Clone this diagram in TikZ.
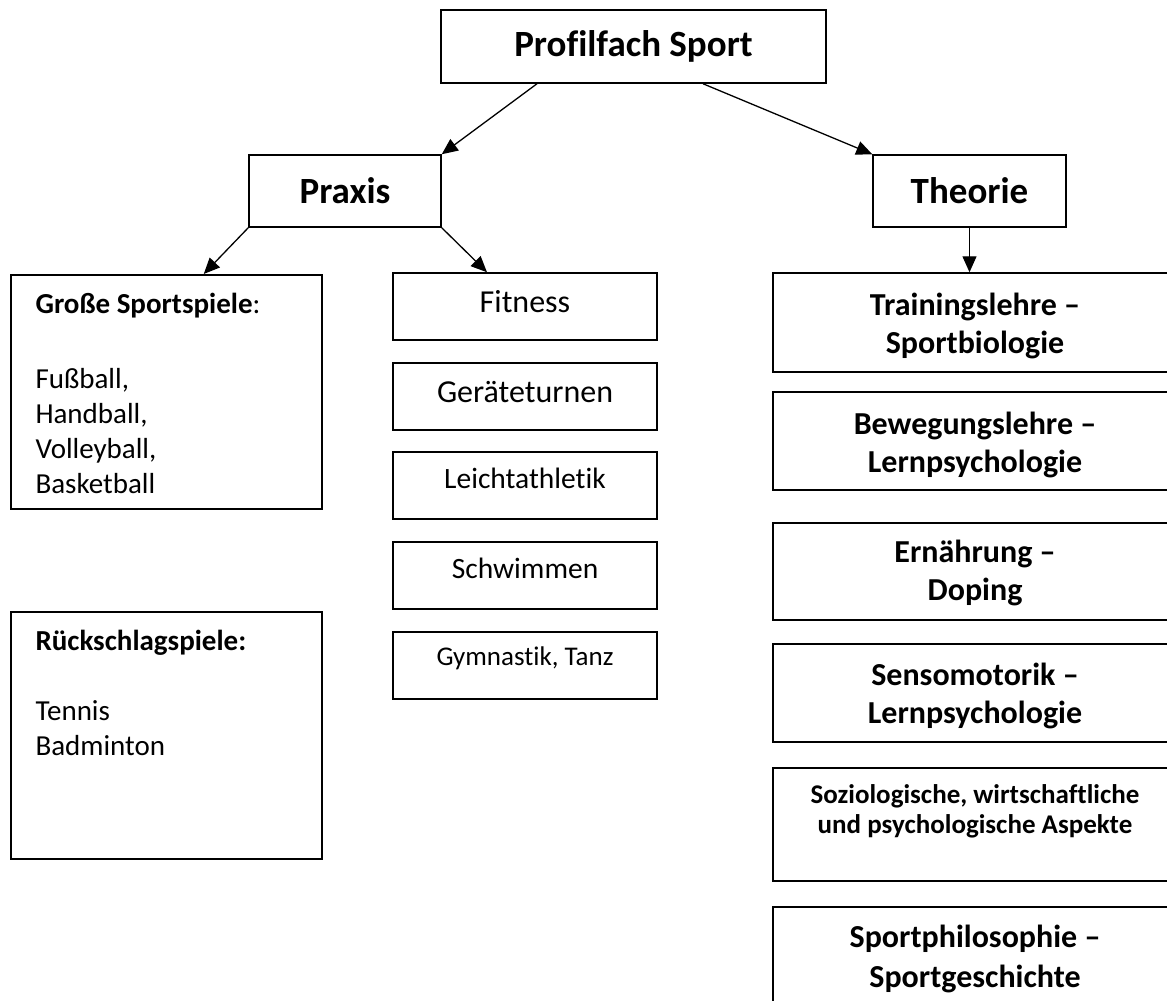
\documentclass[tikz,border=0pt]{standalone}
\usepackage{fontspec}
\setmainfont{Carlito}[Ligatures={TeX,NoCommon}]
\usetikzlibrary{arrows.meta, calc, positioning}
\tikzset{
  box/.style={draw, line width=1.5pt, inner sep=0pt},
  midbox/.style={box, minimum width=264pt, minimum height=67pt},
  theobox/.style={box, minimum width=404pt, minimum height=98pt},
  theotext/.style={anchor=base, align=center, font=\fontsize{32}{38}\selectfont\bfseries},
  conn/.style={line width=1.3pt, -{Triangle[length=16pt,width=14pt]}},
}

\begin{document}
\begin{tikzpicture}[x=1pt,y=-1pt]
  \clip (0,0) rectangle (1167,1001);

  % top levels
  \node[box, minimum width=385pt, minimum height=73pt,
    font=\fontsize{37}{44}\selectfont\bfseries] (sport) at (633.5,46.5) {Profilfach Sport};
  \node[box, minimum width=192pt, minimum height=72pt,
    font=\fontsize{37}{44}\selectfont\bfseries] (praxis) at (345,191) {Praxis};
  \node[box, minimum width=193pt, minimum height=72pt,
    font=\fontsize{37}{44}\selectfont\bfseries] (theorie) at (969.5,191) {Theorie};

  % Praxis, left column (base = last line)
  \node[box, minimum width=311pt, minimum height=234pt, anchor=north west] (grosse) at (10,274) {};
  \node[anchor=base west, align=left, font=\fontsize{29}{35}\selectfont] (grossetxt) at (32,493)
    {\textbf{Große Sportspiele}:\\[40pt] Fußball,\\ Handball,\\ Volleyball,\\ Basketball};
  \node[box, minimum width=311pt, minimum height=247pt, anchor=north west] (rueck) at (10,611) {};
  \node[anchor=base west, align=left, font=\fontsize{29}{35}\selectfont] (ruecktxt) at (32,755)
    {\textbf{Rückschlagspiele:}\\[35pt] Tennis\\ Badminton};

  % Praxis, middle column
  \node[midbox] (fitness) at (525,306.5) {};
  \node[anchor=base, font=\fontsize{32}{38}\selectfont] (fitnesstxt) at (525,312) {Fitness};
  \node[midbox] (turnen) at (525,396.5) {};
  \node[anchor=base, font=\fontsize{32}{38}\selectfont] (turnentxt) at (525,402) {Geräteturnen};
  \node[midbox] (leicht) at (525,485.5) {};
  \node[anchor=base, font=\fontsize{29.5}{35}\selectfont] (leichttxt) at (525,488) {Leichtathletik};
  \node[midbox] (schwimm) at (525,575.5) {};
  \node[anchor=base, font=\fontsize{29.5}{35}\selectfont] (schwimmtxt) at (525,578) {Schwimmen};
  \node[midbox] (gym) at (525,665.5) {};
  \node[anchor=base, font=\fontsize{27}{32}\selectfont] (gymtxt) at (525,665) {Gymnastik, Tanz};

  % Theorie column (base = last line)
  \node[theobox, minimum height=99pt] (train) at (975,322.5) {};
  \node[theotext] (traintxt) at (975,353) {Trainingslehre –\\ Sportbiologie};
  \node[theobox] (beweg) at (975,441) {};
  \node[theotext] (bewegtxt) at (975,472) {Bewegungslehre –\\ Lernpsychologie};
  \node[theobox, minimum height=97pt] (ernaehr) at (975,571.5) {};
  \node[theotext] (ernaehrtxt) at (975,600) {Ernährung –\\ Doping};
  \node[theobox] (senso) at (975,693) {};
  \node[theotext] (sensotxt) at (975,723) {Sensomotorik –\\ Lernpsychologie};
  \node[theobox, minimum height=113pt] (sozio) at (975,824.5) {};
  \node[theotext, font=\fontsize{27}{30}\selectfont\bfseries] (soziotxt) at (975,833)
    {Soziologische, wirtschaftliche\\ und psychologische Aspekte};
  \node[theobox] (philo) at (975,956) {};
  \node[theotext, font=\fontsize{32}{40}\selectfont\bfseries] (philotxt) at (975,987)
    {Sportphilosophie –\\ Sportgeschichte};

  % arrows
  \draw[conn] ($(sport.south)+(-96.5,0)$) -- (praxis.north east);
  \draw[conn] ($(sport.south)+(69.5,0)$) -- (theorie.north west);
  \draw[conn] (praxis.south west) -- ($(grosse.north)+(37.5,0)$);
  \draw[conn] (praxis.south east) -- ($(fitness.north)+(-38,0)$);
  \draw[conn] (theorie.south) -- (theorie.south |- train.north);
\end{tikzpicture}
\end{document}
